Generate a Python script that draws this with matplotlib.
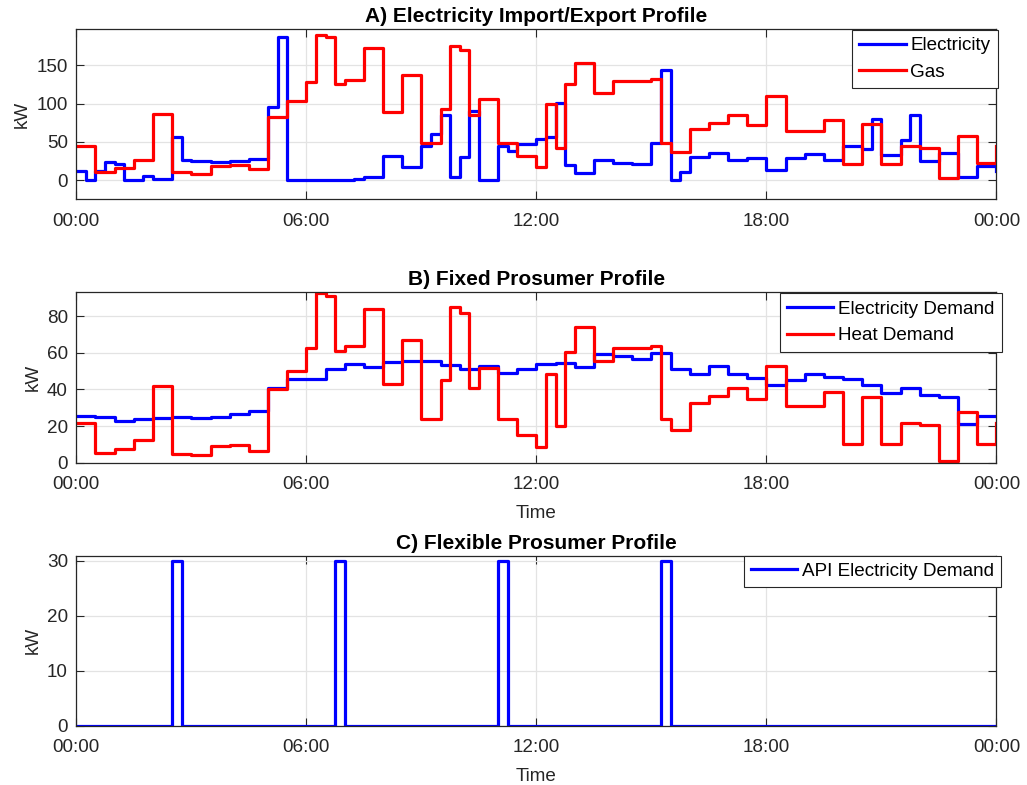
import numpy as np
import matplotlib
matplotlib.use("Agg")
import matplotlib.pyplot as plt

# 15-minute resolution over one day: 96 intervals + closing sample at 24:00
hours = np.arange(97) * 0.25

electricity = [
    12, 0, 12, 24, 21, 0, 0, 5, 2, 2, 57, 26, 25, 25, 24, 24,
    25, 25, 28, 28, 96, 187, 0, 0, 0, 0, 0, 0, 0, 2, 4, 4,
    32, 32, 17, 17, 44, 60, 85, 4, 30, 90, 0, 0, 45, 38, 47, 47,
    54, 57, 101, 20, 9, 9, 27, 27, 22, 22, 21, 21, 49, 144, 0, 11,
    30, 30, 36, 36, 27, 27, 29, 29, 13, 13, 29, 29, 34, 34, 27, 27,
    44, 44, 41, 80, 33, 33, 52, 85, 25, 25, 35, 35, 4, 4, 19, 19,
    12,
]

gas = [
    45, 45, 11, 11, 16, 16, 26, 26, 86, 86, 11, 11, 8, 8, 19, 19,
    20, 20, 14, 14, 83, 83, 103, 103, 128, 190, 187, 125, 131, 131, 173, 173,
    89, 89, 138, 138, 49, 49, 93, 175, 170, 85, 106, 106, 49, 49, 32, 32,
    17, 100, 42, 125, 153, 153, 114, 114, 130, 130, 130, 130, 132, 49, 37, 37,
    67, 67, 75, 75, 85, 85, 72, 72, 110, 110, 64, 64, 64, 64, 79, 79,
    21, 21, 74, 74, 21, 21, 45, 45, 42, 42, 3, 3, 58, 58, 22, 22,
    45,
]

elec_demand = [
    25.5, 25.5, 24.7, 24.7, 22.5, 22.5, 24.0, 24.0, 24.5, 24.5, 25.0, 25.0, 24.2, 24.2, 25.0, 25.0,
    26.4, 26.4, 28.2, 28.2, 41.0, 41.0, 45.5, 45.5, 45.5, 45.5, 51.3, 51.3, 53.6, 53.6, 52.4, 52.4,
    54.7, 54.7, 55.5, 55.5, 55.5, 55.5, 53.3, 53.3, 51.0, 51.0, 53.0, 53.0, 48.7, 48.7, 51.0, 51.0,
    54.0, 54.0, 54.5, 54.5, 52.4, 52.4, 59.3, 59.3, 58.0, 58.0, 56.7, 56.7, 60.0, 60.0, 51.3, 51.3,
    48.4, 48.4, 53.0, 53.0, 48.4, 48.4, 46.0, 46.0, 42.2, 42.2, 45.0, 45.0, 48.4, 48.4, 46.5, 46.5,
    45.8, 45.8, 42.4, 42.4, 37.8, 37.8, 40.5, 40.5, 37.0, 37.0, 35.6, 35.6, 21.0, 21.0, 25.5, 25.5,
    25.5,
]

heat_demand = [
    21.5, 21.5, 5.5, 5.5, 7.5, 7.5, 12.4, 12.4, 41.8, 41.8, 4.9, 4.9, 4.0, 4.0, 9.0, 9.0,
    9.8, 9.8, 6.5, 6.5, 40.0, 40.0, 50.2, 50.2, 62.4, 92.4, 91.0, 60.7, 63.6, 63.6, 83.8, 83.8,
    43.0, 43.0, 67.0, 67.0, 23.6, 23.6, 45.0, 84.7, 81.5, 41.0, 51.5, 51.5, 23.6, 23.6, 15.0, 15.0,
    8.4, 48.2, 20.0, 60.4, 74.2, 74.2, 55.6, 55.6, 62.7, 62.7, 62.7, 62.7, 63.6, 23.6, 17.8, 17.8,
    32.7, 32.7, 36.4, 36.4, 41.0, 41.0, 35.0, 35.0, 53.0, 53.0, 31.0, 31.0, 31.0, 31.0, 38.4, 38.4,
    10.2, 10.2, 35.6, 35.6, 10.2, 10.2, 21.5, 21.5, 20.4, 20.4, 1.1, 1.1, 27.5, 27.5, 10.2, 10.2,
    21.8,
]

# flexible load: 30 kW blocks of 15 minutes
api_demand = [0.0] * 97
for slot in (10, 27, 44, 61):
    api_demand[slot] = 30.0

time_ticks = [0, 6, 12, 18, 24]
time_labels = ["00:00", "06:00", "12:00", "18:00", "00:00"]

plt.rcParams["font.family"] = ["Liberation Sans", "DejaVu Sans"]
AX_COLOR = "#262626"
FS = 13.6

fig = plt.figure(figsize=(10.27, 7.85), dpi=100)

left, width = 0.0743, 0.9703 - 0.0743
ax_a = fig.add_axes([left, 0.7461, width, 0.9631 - 0.7461])
ax_b = fig.add_axes([left, 0.4106, width, 0.6284 - 0.4106])
ax_c = fig.add_axes([left, 0.0755, width, 0.2921 - 0.0755])


def style(ax, ylim, yticks):
    ax.set_xlim(0, 24)
    ax.set_ylim(*ylim)
    ax.set_xticks(time_ticks)
    ax.set_xticklabels(time_labels)
    ax.set_yticks(yticks)
    ax.grid(True, color="#e3e3e3", linewidth=0.9)
    ax.set_axisbelow(True)
    ax.tick_params(direction="in", length=6, width=0.8, colors=AX_COLOR,
                   labelsize=FS, top=True, right=True)
    ax.tick_params(axis="x", pad=9.5)
    ax.tick_params(axis="y", pad=6)
    for sp in ax.spines.values():
        sp.set_color(AX_COLOR)
        sp.set_linewidth(0.9)
    ax.set_ylabel("kW", fontsize=FS, color=AX_COLOR)


def legend(ax, right_px, top_px):
    lg = ax.legend(loc="upper right",
                   bbox_to_anchor=(right_px / 1027, 1 - top_px / 785),
                   bbox_transform=fig.transFigure, borderaxespad=0,
                   fancybox=False, framealpha=1, edgecolor=AX_COLOR,
                   fontsize=FS, handlelength=2.45, handletextpad=0.25,
                   labelspacing=0.5, borderpad=0.38)
    lg.get_frame().set_linewidth(0.8)


LW = 2.3

# A) import/export
ax_a.step(hours, electricity, where="post", color="#0000ff", lw=LW, label="Electricity")
ax_a.step(hours, gas, where="post", color="#ff0000", lw=LW, label="Gas")
style(ax_a, (-25, 197.5), [0, 50, 100, 150])
ax_a.set_title("A) Electricity Import/Export Profile", fontsize=15, fontweight="bold", pad=5)
legend(ax_a, 997.7, 30)

# B) fixed prosumer
ax_b.step(hours, elec_demand, where="post", color="#0000ff", lw=LW, label="Electricity Demand")
ax_b.step(hours, heat_demand, where="post", color="#ff0000", lw=LW, label="Heat Demand")
style(ax_b, (0, 93.3), [0, 20, 40, 60, 80])
ax_b.set_title("B) Fixed Prosumer Profile", fontsize=15, fontweight="bold", pad=5)
ax_b.set_xlabel("Time", fontsize=FS, color=AX_COLOR, labelpad=9)
legend(ax_b, 1001.7, 293.3)

# C) flexible prosumer
ax_c.step(hours, api_demand, where="post", color="#0000ff", lw=LW, label="API Electricity Demand")
style(ax_c, (0, 30.9), [0, 10, 20, 30])
ax_c.set_title("C) Flexible Prosumer Profile", fontsize=15, fontweight="bold", pad=5)
ax_c.set_xlabel("Time", fontsize=FS, color=AX_COLOR, labelpad=9)
legend(ax_c, 1001, 555.7)

fig.savefig("out.png", dpi=100)
